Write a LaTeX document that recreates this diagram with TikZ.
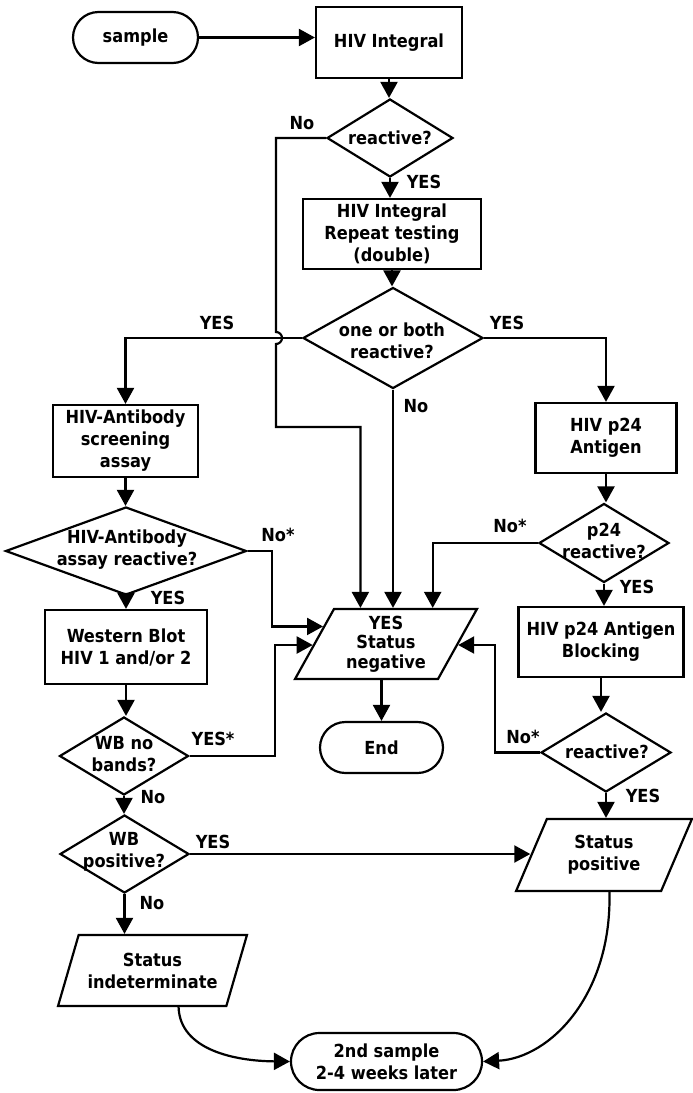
\documentclass[tikz,border=0pt]{standalone}
\usepackage{fontspec}
\setmainfont{DejaVu Sans Condensed}
\usetikzlibrary{arrows.meta,shapes.geometric,shapes.misc,calc}
\begin{document}
\begin{tikzpicture}[x=1pt,y=-1pt,
  font=\fontsize{18}{22}\selectfont\bfseries,
  box/.style={draw, line width=2.2pt, rectangle, align=center, inner sep=0pt},
  term/.style={draw, line width=2.2pt, rounded rectangle, align=center, inner sep=0pt},
  dia/.style={draw, line width=2.2pt, diamond, inner sep=0pt},
  para/.style={draw, line width=2.2pt, trapezium, trapezium stretches=true, align=center, inner sep=0pt},
  txt/.style={align=center, inner sep=0pt},
  lbl/.style={inner sep=0pt},
  arr/.style={line width=2.2pt, -{Triangle[length=16pt,width=17pt]}}
]
\useasboundingbox (0,0) rectangle (693,1093);

% shapes
\node[term, minimum width=125pt, minimum height=51pt] (sample) at (135.5,37.5) {sample};
\node[box, minimum width=146pt, minimum height=71pt] (int) at (389,42.5) {HIV Integral};
\node[dia, minimum width=126pt, minimum height=78pt] (r1) at (390,138) {};
\node[txt] (r1t) at (390,138) {reactive?};
\node[box, minimum width=178pt, minimum height=70pt] (rep) at (392,234) {HIV Integral\\Repeat testing\\(double)};
\node[dia, minimum width=180pt, minimum height=101pt] (d2) at (393,338) {};
\node[txt] (d2t) at (392,341) {one or both\\reactive?};
\node[box, minimum width=145pt, minimum height=72pt] (ab) at (125.5,441) {HIV-Antibody\\screening\\assay};
\node[box, minimum width=141pt, minimum height=70pt] (p24) at (606,438) {HIV p24\\Antigen};
\node[dia, minimum width=241pt, minimum height=88pt] (abd) at (126,551) {};
\node[txt] (abdt) at (127,550) {HIV-Antibody\\assay reactive?};
\node[dia, minimum width=130pt, minimum height=79pt] (p24d) at (604,543) {};
\node[txt] (p24dt) at (604,541) {p24\\reactive?};
\node[box, minimum width=162pt, minimum height=74pt] (wb) at (126,647) {Western Blot\\HIV 1 and/or 2};
\node[box, minimum width=165pt, minimum height=70pt] (blk) at (601,642) {HIV p24 Antigen\\Blocking};
\node[para, trapezium left angle=62, trapezium right angle=118, minimum width=182pt, minimum height=70pt, font=\fontsize{18}{19.5}\selectfont\bfseries] (sneg) at (386,644) {YES\\Status\\negative};
\node[term, minimum width=123pt, minimum height=51pt] (end) at (381.5,747.5) {End};
\node[dia, minimum width=129pt, minimum height=78pt] (nb) at (124,756) {};
\node[txt] (nbt) at (124,754) {WB no\\bands?};
\node[dia, minimum width=130pt, minimum height=79pt] (rd) at (606,752.5) {};
\node[txt] (rdt) at (607,752) {reactive?};
\node[dia, minimum width=129pt, minimum height=78pt] (pos) at (124.5,854) {};
\node[txt] (post) at (124,852) {WB\\positive?};
\node[para, trapezium left angle=63.4, trapezium right angle=116.6, minimum width=176pt, minimum height=72pt] (spos) at (604,855) {Status\\positive};
\node[para, trapezium left angle=63, trapezium right angle=117, minimum width=189pt, minimum height=71pt] (sind) at (152.5,970.5) {Status\\indeterminate};
\node[term, minimum width=191pt, minimum height=57pt] (s2) at (386.5,1061.5) {2nd sample\\2-4 weeks later};

% labels
\node[lbl] (l1) at (302,123) {No};
\node[lbl] (l2) at (424,182) {YES};
\node[lbl] (l3) at (217,323) {YES};
\node[lbl] (l4) at (507,323) {YES};
\node[lbl] (l5) at (416,406) {No};
\node[lbl] (l6) at (278,535) {No*};
\node[lbl] (l7) at (168,598) {YES};
\node[lbl] (l8) at (510,526) {No*};
\node[lbl] (l9) at (637,587) {YES};
\node[lbl] (l10) at (213,739) {YES*};
\node[lbl] (l11) at (153,797) {No};
\node[lbl] (l12) at (213,842) {YES};
\node[lbl] (l13) at (152,903) {No};
\node[lbl] (l14) at (523,737) {No*};
\node[lbl] (l15) at (643,796) {YES};

% connector end points on slanted / wide edges
\coordinate (snegL1) at ($(sneg.bottom left corner)!0.743!(sneg.top left corner)$);
\coordinate (snegL2) at ($(sneg.bottom left corner)!0.486!(sneg.top left corner)$);
\coordinate (snegR) at ($(sneg.bottom right corner)!0.486!(sneg.top right corner)$);
\coordinate (snegT1) at ($(sneg.top left corner)!0.186!(sneg.top right corner)$);
\coordinate (snegT3) at ($(sneg.top left corner)!0.683!(sneg.top right corner)$);
\coordinate (sposL) at ($(spos.bottom left corner)!0.5!(spos.top left corner)$);
\coordinate (sindB) at ($(sind.bottom left corner)+(122,0)$);
\coordinate (sposB) at ($(spos.bottom left corner)+(95,0)$);

% connectors
\draw[arr] (sample.east) -- (sample.east -| int.west);
\draw[arr] (int.south) -- (int.south |- r1.north);
\draw[arr] (r1.west) -- (276,138) -- (276,332) arc[start angle=90,end angle=-90,radius=6pt] -- (276,427) -| (snegT1);
\draw[arr] (r1.south) -- (r1.south |- rep.north);
\draw[arr] (rep.south) -- (rep.south |- d2.north);
\draw[arr] (d2.west) -| (ab.north);
\draw[arr] (d2.east) -| (p24.north);
\draw[arr] (d2.south) -- (d2.south |- snegT1);
\draw[arr] (ab.south) -- (ab.south |- abd.north);
\draw[arr] (abd.east) -- ++(24,0) |- (snegL1);
\draw[arr] (abd.south) -- (abd.south |- wb.north);
\draw[arr] (wb.south) -- (wb.south |- nb.north);
\draw[arr] (nb.east) -- ++(85,0) |- (snegL2);
\draw[arr] (nb.south) -- (nb.south |- pos.north);
\draw[arr] (pos.east) -- (pos.east -| sposL);
\draw[arr] (pos.south) -- (pos.south |- sind.north);
\draw[arr] (sindB) .. controls (180,1050) and (235,1061) .. (s2.west);
\draw[arr] (sposB) .. controls (612,995) and (550,1058) .. (s2.east);
\draw[arr] (sneg.south -| end.north) -- (end.north);
\draw[arr] (p24.south) -- (p24.south |- p24d.north);
\draw[arr] (p24d.west) -| (snegT3);
\draw[arr] (p24d.south) -- (p24d.south |- blk.north);
\draw[arr] (blk.south) -- (blk.south |- rd.north);
\draw[arr] (rd.west) -- ++(-45,0) |- (snegR);
\draw[arr] (rd.south) -- (rd.south |- spos.north);
\end{tikzpicture}
\end{document}
